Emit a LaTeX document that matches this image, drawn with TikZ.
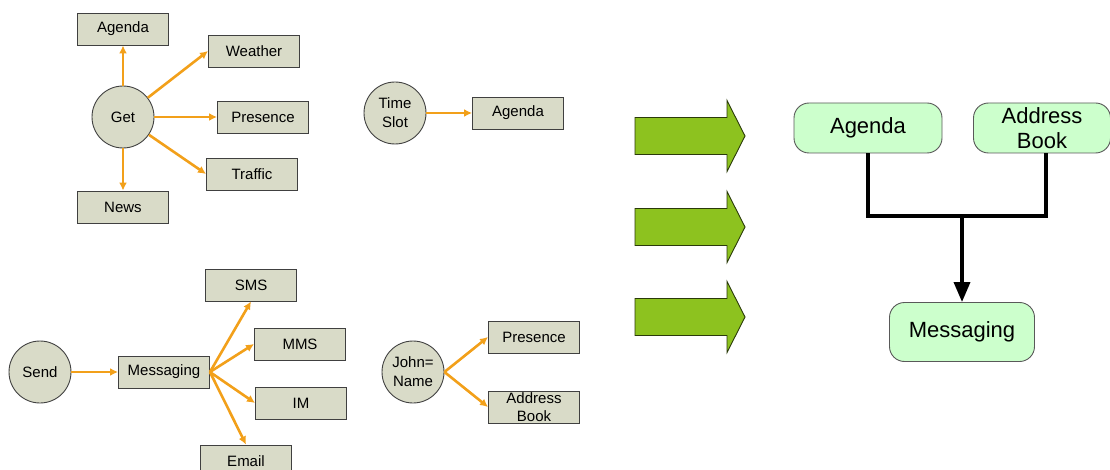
\documentclass[tikz,border=0pt]{standalone}
\usepackage{fontspec}
\setmainfont{Liberation Sans}
\usetikzlibrary{arrows.meta}
\definecolor{boxgray}{HTML}{D9DBC8}
\definecolor{linkorange}{HTML}{F2A01A}
\definecolor{bigarrow}{HTML}{8DC21F}
\definecolor{palegreen}{HTML}{CCFFCC}

\begin{document}
\begin{tikzpicture}[
    x=1pt, y=-1pt, % 按像素取坐标
    box/.style={draw=black!75, line width=0.9pt, fill=boxgray, minimum width=91pt, minimum height=32pt,
        inner sep=1pt, align=center, font=\fontsize{15}{18}\selectfont},
    dot/.style={circle, draw=black!75, line width=0.9pt, fill=boxgray, minimum size=62pt, inner sep=0pt,
        align=center, font=\fontsize{15}{19}\selectfont},
    link/.style={draw=linkorange, line width=2.6pt, -{Latex[length=8pt,width=8pt]}},
    bigbox/.style={draw=black!65, line width=0.9pt, fill=palegreen, rounded corners=15pt, minimum height=50pt,
        inner sep=2pt, align=center, font=\fontsize{22}{25}\selectfont},
    flow/.style={line width=3.5pt},
]
\useasboundingbox (0,0) rectangle (1110,470);
\clip (0,0) rectangle (1110,470);

% Get 及其分支
\node[dot] (get) at (123,117) {Get};
\node[box] (agendaA) at (123,29) {Agenda};
\node[box] (weather) at (254,51) {Weather};
\node[box] (presenceA) at (263,117) {Presence};
\node[box] (traffic) at (252,174) {Traffic};
\node[box] (news) at (123,207) {News};
\draw[link] (get) -- (agendaA);
\draw[link] (get) -- (weather.west);
\draw[link] (get) -- (presenceA);
\draw[link] (get) -- (traffic.west);
\draw[link] (get) -- (news);

% Send 及其分支
\node[dot] (send) at (40,372) {Send};
\node[box] (msgA) at (164,372) {Messaging};
\node[box] (sms) at (251,285) {SMS};
\node[box] (mms) at (300,344) {MMS};
\node[box] (im) at (301,403) {IM};
\node[box] (email) at (246,461) {Email};
\draw[link] (send) -- (msgA);
\draw[link] (msgA.east) -- (sms.south);
\draw[link] (msgA.east) -- (mms.west);
\draw[link] (msgA.east) -- (im.west);
\draw[link] (msgA.east) -- (email.north);

% Time Slot
\node[dot] (slot) at (395,113) {Time\\Slot};
\node[box] (agendaB) at (518,113) {Agenda};
\draw[link] (slot) -- (agendaB);

% John=Name
\node[dot] (john) at (413,372) {John=\\Name};
\node[box] (presenceB) at (534,337) {Presence};
\node[box] (bookA) at (534,407) {Address\\Book};
\draw[link] (john.east) -- (presenceB.west);
\draw[link] (john.east) -- (bookA.west);

% 绿色大箭头
\foreach \yc in {136,227,317}
    \filldraw[fill=bigarrow, draw=black!70!bigarrow, line width=0.9pt]
        (635,\yc-18.5) -- (727,\yc-18.5) -- (727,\yc-35.5) -- (745,\yc)
        -- (727,\yc+35.5) -- (727,\yc+18.5) -- (635,\yc+18.5) -- cycle;

% 组合结果
\node[bigbox, minimum width=148pt] (agendaR) at (868,128) {Agenda};
\node[bigbox, minimum width=137pt] (bookR) at (1042,128) {Address\\Book};
\node[bigbox, minimum width=145pt, minimum height=59pt] (msgR) at (962,332) {Messaging};
\coordinate (join) at (962,216);
\draw[flow] (agendaR.south) |- (join) -| ([xshift=4pt]bookR.south);
\draw[flow, -{Triangle[length=20pt,width=16pt]}] (join) -- (msgR.north);
\end{tikzpicture}
\end{document}
